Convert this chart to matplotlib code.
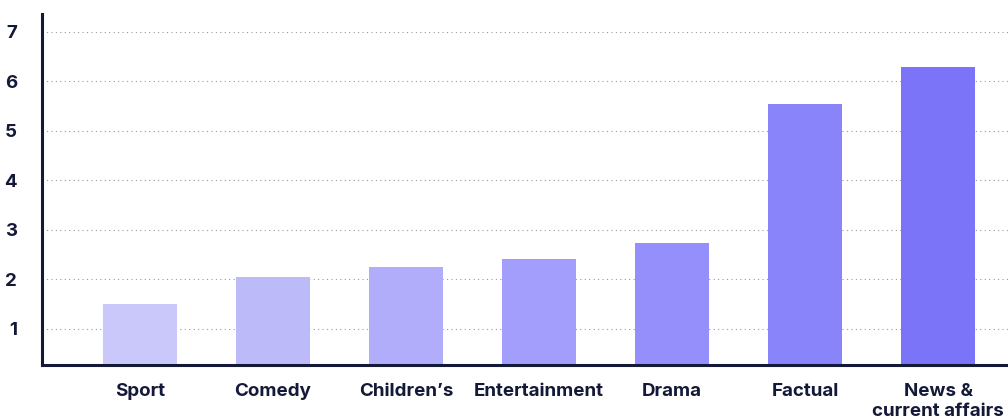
import matplotlib.pyplot as plt

genres = ['Sport', 'Comedy', 'Children\u2019s', 'Entertainment', 'Drama', 'Factual', 'News &\ncurrent affairs']
values = [1.5, 2.04, 2.25, 2.41, 2.74, 5.55, 6.29]
colours = ['#CAC7FA', '#BDBAFA', '#B1ADFB', '#A39EFB', '#958FFB', '#8A84FB', '#7B74F8']

navy = '#141937'

fig = plt.figure(figsize=(10.08, 4.16), dpi=100)
ax = fig.add_axes([42 / 1008, 51 / 416, 1 - 42 / 1008, (365 - 14) / 416])

x = range(len(genres))
ax.bar(x, values, width=0.556, color=colours, zorder=2)

ax.set_xlim(-0.737, 6.526)
ax.set_ylim(0.273, 7.36)
ax.set_yticks(range(1, 8))
ax.set_xticks(list(x))
ax.set_xticklabels(genres, va='top', linespacing=1.25)

ax.grid(axis='y', color='#9a9a9a', linestyle=(0, (1, 3)), linewidth=0.8, zorder=0)
ax.grid(axis='x', visible=False)

for side in ['top', 'right']:
    ax.spines[side].set_visible(False)
for side in ['left', 'bottom']:
    ax.spines[side].set_color(navy)
    ax.spines[side].set_linewidth(2.2)

ax.tick_params(axis='both', length=0, colors=navy)
ax.tick_params(axis='y', pad=18)
ax.tick_params(axis='x', pad=13)
for lbl in ax.get_xticklabels() + ax.get_yticklabels():
    lbl.set_fontfamily(['Inter', 'DejaVu Sans'])
    lbl.set_fontweight('bold')
    lbl.set_fontsize(13.5)

fig.savefig('out.png', dpi=100)
